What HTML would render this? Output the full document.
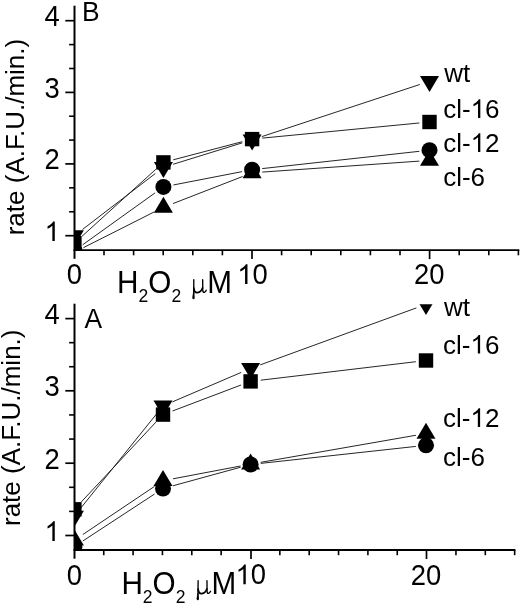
<!DOCTYPE html>
<html><head><meta charset="utf-8"><title>chart</title>
<style>html,body{margin:0;padding:0;background:#fff;}body{width:520px;height:604px;position:relative;overflow:hidden;font-family:"Liberation Sans",sans-serif;}</style>
</head><body>
<svg width="520" height="604" viewBox="0 0 520 604" style="position:absolute;left:0;top:0;will-change:transform">
<rect width="520" height="604" fill="#fff"/>
<clipPath id="cT"><rect x="74.4" y="5.7" width="445.6" height="244.5"/></clipPath>
<g clip-path="url(#cT)">
<g stroke="#1a1a1a" stroke-width="0.95" fill="none">
<line x1="83.51" y1="247.61" x2="154.29" y2="211.89"/>
<line x1="172.91" y1="203.60" x2="242.59" y2="176.50"/>
<line x1="262.28" y1="172.09" x2="419.32" y2="161.11"/>
<line x1="82.69" y1="244.76" x2="155.11" y2="192.84"/>
<line x1="173.41" y1="184.96" x2="242.09" y2="171.64"/>
<line x1="262.24" y1="168.59" x2="419.36" y2="151.31"/>
<line x1="82.49" y1="229.48" x2="155.31" y2="173.52"/>
<line x1="173.14" y1="164.28" x2="242.36" y2="142.82"/>
<line x1="261.79" y1="136.61" x2="419.81" y2="84.49"/>
<line x1="81.95" y1="236.34" x2="155.85" y2="169.26"/>
<line x1="173.27" y1="159.81" x2="242.23" y2="141.69"/>
<line x1="262.25" y1="138.12" x2="419.35" y2="122.98"/>
</g>
<g fill="#000">
<polygon points="64.90,257.53 83.90,257.53 74.40,241.53"/>
<polygon points="153.90,212.63 172.90,212.63 163.40,196.63"/>
<polygon points="242.60,178.13 261.60,178.13 252.10,162.13"/>
<polygon points="420.00,165.73 439.00,165.73 429.50,149.73"/>
<circle cx="74.40" cy="250.70" r="8.0"/>
<circle cx="163.40" cy="186.90" r="8.0"/>
<circle cx="252.10" cy="169.70" r="8.0"/>
<circle cx="429.50" cy="150.20" r="8.0"/>
<polygon points="64.90,230.37 83.90,230.37 74.40,246.37"/>
<polygon points="153.90,161.97 172.90,161.97 163.40,177.97"/>
<polygon points="242.60,134.47 261.60,134.47 252.10,150.47"/>
<polygon points="420.00,75.97 439.00,75.97 429.50,91.97"/>
<rect x="67.20" y="236.00" width="14.4" height="14.4"/>
<rect x="156.20" y="155.20" width="14.4" height="14.4"/>
<rect x="244.90" y="131.90" width="14.4" height="14.4"/>
<rect x="422.30" y="114.80" width="14.4" height="14.4"/>
</g></g>
<g stroke="#000" fill="none">
<line x1="74.5" y1="5.7" x2="74.5" y2="258.8" stroke-width="2.0"/>
<line x1="73.5" y1="250.1" x2="519.3" y2="250.1" stroke-width="1.9"/>
<line x1="65.3" y1="20.7" x2="74.5" y2="20.7" stroke-width="1.7"/>
<line x1="65.3" y1="92.4" x2="74.5" y2="92.4" stroke-width="1.7"/>
<line x1="65.3" y1="163.9" x2="74.5" y2="163.9" stroke-width="1.7"/>
<line x1="65.3" y1="235.7" x2="74.5" y2="235.7" stroke-width="1.7"/>
<line x1="69.1" y1="44.60" x2="74.5" y2="44.60" stroke-width="1.6"/>
<line x1="69.1" y1="68.50" x2="74.5" y2="68.50" stroke-width="1.6"/>
<line x1="69.1" y1="116.23" x2="74.5" y2="116.23" stroke-width="1.6"/>
<line x1="69.1" y1="140.07" x2="74.5" y2="140.07" stroke-width="1.6"/>
<line x1="69.1" y1="187.83" x2="74.5" y2="187.83" stroke-width="1.6"/>
<line x1="69.1" y1="211.77" x2="74.5" y2="211.77" stroke-width="1.6"/>
<line x1="252.0" y1="250.1" x2="252.0" y2="259.1" stroke-width="1.7"/>
<line x1="429.6" y1="250.1" x2="429.6" y2="259.1" stroke-width="1.7"/>
<line x1="104.00" y1="250.1" x2="104.00" y2="255.29999999999998" stroke-width="1.6"/>
<line x1="133.60" y1="250.1" x2="133.60" y2="255.29999999999998" stroke-width="1.6"/>
<line x1="163.20" y1="250.1" x2="163.20" y2="255.29999999999998" stroke-width="1.6"/>
<line x1="192.80" y1="250.1" x2="192.80" y2="255.29999999999998" stroke-width="1.6"/>
<line x1="222.40" y1="250.1" x2="222.40" y2="255.29999999999998" stroke-width="1.6"/>
<line x1="281.60" y1="250.1" x2="281.60" y2="255.29999999999998" stroke-width="1.6"/>
<line x1="311.20" y1="250.1" x2="311.20" y2="255.29999999999998" stroke-width="1.6"/>
<line x1="340.80" y1="250.1" x2="340.80" y2="255.29999999999998" stroke-width="1.6"/>
<line x1="370.40" y1="250.1" x2="370.40" y2="255.29999999999998" stroke-width="1.6"/>
<line x1="400.00" y1="250.1" x2="400.00" y2="255.29999999999998" stroke-width="1.6"/>
<line x1="459.20" y1="250.1" x2="459.20" y2="255.29999999999998" stroke-width="1.6"/>
<line x1="488.80" y1="250.1" x2="488.80" y2="255.29999999999998" stroke-width="1.6"/>
<line x1="518.40" y1="250.1" x2="518.40" y2="255.29999999999998" stroke-width="1.6"/>
</g>
<clipPath id="cB"><rect x="74.4" y="304.2" width="445.6" height="245.8"/></clipPath>
<g clip-path="url(#cB)">
<g stroke="#1a1a1a" stroke-width="0.95" fill="none">
<line x1="82.93" y1="540.91" x2="154.47" y2="494.09"/>
<line x1="172.84" y1="485.80" x2="240.76" y2="467.20"/>
<line x1="260.74" y1="463.39" x2="415.86" y2="446.41"/>
<line x1="82.87" y1="534.51" x2="154.53" y2="486.39"/>
<line x1="173.02" y1="478.80" x2="240.58" y2="466.00"/>
<line x1="260.65" y1="462.35" x2="415.95" y2="435.25"/>
<line x1="80.79" y1="508.05" x2="156.61" y2="413.85"/>
<line x1="172.38" y1="401.89" x2="241.22" y2="372.41"/>
<line x1="260.18" y1="364.90" x2="416.42" y2="307.90"/>
<line x1="81.37" y1="501.85" x2="156.03" y2="422.05"/>
<line x1="172.54" y1="410.99" x2="241.06" y2="385.01"/>
<line x1="260.73" y1="380.19" x2="415.87" y2="361.71"/>
</g>
<g fill="#000">
<circle cx="74.40" cy="546.50" r="8.0"/>
<circle cx="163.00" cy="488.50" r="8.0"/>
<circle cx="250.60" cy="464.50" r="8.0"/>
<circle cx="426.00" cy="445.30" r="8.0"/>
<polygon points="64.90,545.53 83.90,545.53 74.40,529.53"/>
<polygon points="153.50,486.03 172.50,486.03 163.00,470.03"/>
<polygon points="241.10,469.43 260.10,469.43 250.60,453.43"/>
<polygon points="416.50,438.83 435.50,438.83 426.00,422.83"/>
<polygon points="64.90,510.67 83.90,510.67 74.40,526.67"/>
<polygon points="153.50,400.57 172.50,400.57 163.00,416.57"/>
<polygon points="241.10,363.07 260.10,363.07 250.60,379.07"/>
<polygon points="416.50,299.07 435.50,299.07 426.00,315.07"/>
<rect x="67.20" y="502.10" width="14.4" height="14.4"/>
<rect x="155.80" y="407.40" width="14.4" height="14.4"/>
<rect x="243.40" y="374.20" width="14.4" height="14.4"/>
<rect x="418.80" y="353.30" width="14.4" height="14.4"/>
</g></g>
<g stroke="#000" fill="none">
<line x1="74.5" y1="303.7" x2="74.5" y2="558.7" stroke-width="2.0"/>
<line x1="73.5" y1="550.0" x2="515.4" y2="550.0" stroke-width="1.9"/>
<line x1="65.3" y1="318.6" x2="74.5" y2="318.6" stroke-width="1.7"/>
<line x1="65.3" y1="390.8" x2="74.5" y2="390.8" stroke-width="1.7"/>
<line x1="65.3" y1="463.2" x2="74.5" y2="463.2" stroke-width="1.7"/>
<line x1="65.3" y1="535.5" x2="74.5" y2="535.5" stroke-width="1.7"/>
<line x1="69.1" y1="342.67" x2="74.5" y2="342.67" stroke-width="1.6"/>
<line x1="69.1" y1="366.73" x2="74.5" y2="366.73" stroke-width="1.6"/>
<line x1="69.1" y1="414.93" x2="74.5" y2="414.93" stroke-width="1.6"/>
<line x1="69.1" y1="439.07" x2="74.5" y2="439.07" stroke-width="1.6"/>
<line x1="69.1" y1="487.30" x2="74.5" y2="487.30" stroke-width="1.6"/>
<line x1="69.1" y1="511.40" x2="74.5" y2="511.40" stroke-width="1.6"/>
<line x1="251.0" y1="550.0" x2="251.0" y2="559.0" stroke-width="1.7"/>
<line x1="426.5" y1="550.0" x2="426.5" y2="559.0" stroke-width="1.7"/>
<line x1="103.75" y1="550.0" x2="103.75" y2="555.2" stroke-width="1.6"/>
<line x1="133.10" y1="550.0" x2="133.10" y2="555.2" stroke-width="1.6"/>
<line x1="162.45" y1="550.0" x2="162.45" y2="555.2" stroke-width="1.6"/>
<line x1="191.80" y1="550.0" x2="191.80" y2="555.2" stroke-width="1.6"/>
<line x1="221.15" y1="550.0" x2="221.15" y2="555.2" stroke-width="1.6"/>
<line x1="279.85" y1="550.0" x2="279.85" y2="555.2" stroke-width="1.6"/>
<line x1="309.20" y1="550.0" x2="309.20" y2="555.2" stroke-width="1.6"/>
<line x1="338.55" y1="550.0" x2="338.55" y2="555.2" stroke-width="1.6"/>
<line x1="367.90" y1="550.0" x2="367.90" y2="555.2" stroke-width="1.6"/>
<line x1="397.25" y1="550.0" x2="397.25" y2="555.2" stroke-width="1.6"/>
<line x1="455.95" y1="550.0" x2="455.95" y2="555.2" stroke-width="1.6"/>
<line x1="485.30" y1="550.0" x2="485.30" y2="555.2" stroke-width="1.6"/>
<line x1="514.65" y1="550.0" x2="514.65" y2="555.2" stroke-width="1.6"/>
</g>
<g font-family="Liberation Sans, sans-serif" fill="#000">
<text transform="translate(44.56,26.1) scale(1,1.045)" font-size="27.4" >4</text>
<text transform="translate(44.56,97.80000000000001) scale(1,1.045)" font-size="27.4" >3</text>
<text transform="translate(44.56,169.3) scale(1,1.045)" font-size="27.4" >2</text>
<path transform="translate(44.56,241.1) scale(0.01338,-0.01338)" d="M763 0H583V1147Q518 1085 412.5 1023Q307 961 223 930V1104Q374 1175 487 1276Q600 1377 647 1472H763Z"/>
<text transform="translate(44.56,324.0) scale(1,1.045)" font-size="27.4" >4</text>
<text transform="translate(44.56,396.2) scale(1,1.045)" font-size="27.4" >3</text>
<text transform="translate(44.56,468.59999999999997) scale(1,1.045)" font-size="27.4" >2</text>
<path transform="translate(44.56,540.9) scale(0.01338,-0.01338)" d="M763 0H583V1147Q518 1085 412.5 1023Q307 961 223 930V1104Q374 1175 487 1276Q600 1377 647 1472H763Z"/>
<text transform="translate(66.78,283.9) scale(1,1.045)" font-size="27.4" >0</text>
<path transform="translate(237.26,283.9) scale(0.01338,-0.01338)" d="M763 0H583V1147Q518 1085 412.5 1023Q307 961 223 930V1104Q374 1175 487 1276Q600 1377 647 1472H763Z"/>
<text transform="translate(252.50,283.9) scale(1,1.045)" font-size="27.4" >0</text>
<text transform="translate(414.06,284.3) scale(1,1.045)" font-size="27.4" >20</text>
<text transform="translate(66.78,584.5) scale(1,1.045)" font-size="27.4" >0</text>
<path transform="translate(235.56,584.3) scale(0.01338,-0.01338)" d="M763 0H583V1147Q518 1085 412.5 1023Q307 961 223 930V1104Q374 1175 487 1276Q600 1377 647 1472H763Z"/>
<text transform="translate(250.80,584.3) scale(1,1.045)" font-size="27.4" >0</text>
<text transform="translate(410.76,584.5) scale(1,1.045)" font-size="27.4" >20</text>
<text transform="translate(82.10,20.9) scale(1,1.045)" font-size="26.4" >B</text>
<text transform="translate(84.60,327.85) scale(1,1.045)" font-size="26.4" >A</text>
<text x="444.20" y="81.8" font-size="26" >wt</text>
<text x="443.20" y="118.0" font-size="26" >cl-</text>
<path transform="translate(470.63,118.0) scale(0.01270,-0.01270)" d="M763 0H583V1147Q518 1085 412.5 1023Q307 961 223 930V1104Q374 1175 487 1276Q600 1377 647 1472H763Z"/>
<text x="485.09" y="118.0" font-size="26" >6</text>
<text x="443.20" y="151.9" font-size="26" >cl-</text>
<path transform="translate(470.63,151.9) scale(0.01270,-0.01270)" d="M763 0H583V1147Q518 1085 412.5 1023Q307 961 223 930V1104Q374 1175 487 1276Q600 1377 647 1472H763Z"/>
<text x="485.09" y="151.9" font-size="26" >2</text>
<text x="443.20" y="186.0" font-size="26" >cl-6</text>
<text x="444.00" y="316.4" font-size="26" >wt</text>
<text x="443.00" y="353.6" font-size="26" >cl-</text>
<path transform="translate(470.43,353.6) scale(0.01270,-0.01270)" d="M763 0H583V1147Q518 1085 412.5 1023Q307 961 223 930V1104Q374 1175 487 1276Q600 1377 647 1472H763Z"/>
<text x="484.89" y="353.6" font-size="26" >6</text>
<text x="443.00" y="427.0" font-size="26" >cl-</text>
<path transform="translate(470.43,427.0) scale(0.01270,-0.01270)" d="M763 0H583V1147Q518 1085 412.5 1023Q307 961 223 930V1104Q374 1175 487 1276Q600 1377 647 1472H763Z"/>
<text x="484.89" y="427.0" font-size="26" >2</text>
<text x="443.00" y="465.9" font-size="26" >cl-6</text>
<text transform="translate(24.4,235.3) rotate(-90)" font-size="26.0">rate (A.F.U./min.)</text>
<text transform="translate(19.8,526.0) rotate(-90)" font-size="26.0">rate (A.F.U./min.)</text>
<text transform="translate(117.10,292.6) scale(1,1.045)" font-size="29.7" >H</text>
<text x="138.55" y="301.8" font-size="17.5" >2</text>
<text transform="translate(148.28,292.6) scale(1,1.045)" font-size="29.7" >O</text>
<text x="171.38" y="301.8" font-size="17.5" >2</text>
<g transform="translate(189.37,292.6) scale(1.0000)" fill="none" stroke="#000" stroke-linecap="round" stroke-linejoin="round"><path d="M4.45,-12.9 L4.3,1" stroke-width="1.35"/><path d="M3.65,0 L4.95,0 L5.35,5.2 Q5.3,6.7 4.1,6.7 Q2.9,6.6 2.9,5.2 Z" fill="#000" stroke="none"/><path d="M4.5,-4.5 C4.7,-0.9 6.3,0.1 8.1,0 C10.4,-0.2 12.5,-2.3 13.2,-4.8" stroke-width="1.7"/><path d="M13.3,-12.9 L13.4,-2.4 Q13.5,0.1 15.0,-0.3 Q16.2,-0.7 16.9,-2.3" stroke-width="1.35"/></g>
<text transform="translate(207.19,292.6) scale(1,1.045)" font-size="29.7" >M</text>
<text transform="translate(121.40,593.6) scale(1,1.045)" font-size="29.7" >H</text>
<text x="142.85" y="602.8000000000001" font-size="17.5" >2</text>
<text transform="translate(152.58,593.6) scale(1,1.045)" font-size="29.7" >O</text>
<text x="175.68" y="602.8000000000001" font-size="17.5" >2</text>
<g transform="translate(193.67,593.6) scale(1.0000)" fill="none" stroke="#000" stroke-linecap="round" stroke-linejoin="round"><path d="M4.45,-12.9 L4.3,1" stroke-width="1.35"/><path d="M3.65,0 L4.95,0 L5.35,5.2 Q5.3,6.7 4.1,6.7 Q2.9,6.6 2.9,5.2 Z" fill="#000" stroke="none"/><path d="M4.5,-4.5 C4.7,-0.9 6.3,0.1 8.1,0 C10.4,-0.2 12.5,-2.3 13.2,-4.8" stroke-width="1.7"/><path d="M13.3,-12.9 L13.4,-2.4 Q13.5,0.1 15.0,-0.3 Q16.2,-0.7 16.9,-2.3" stroke-width="1.35"/></g>
<text transform="translate(211.49,593.6) scale(1,1.045)" font-size="29.7" >M</text>
</g>
</svg>
</body></html>
